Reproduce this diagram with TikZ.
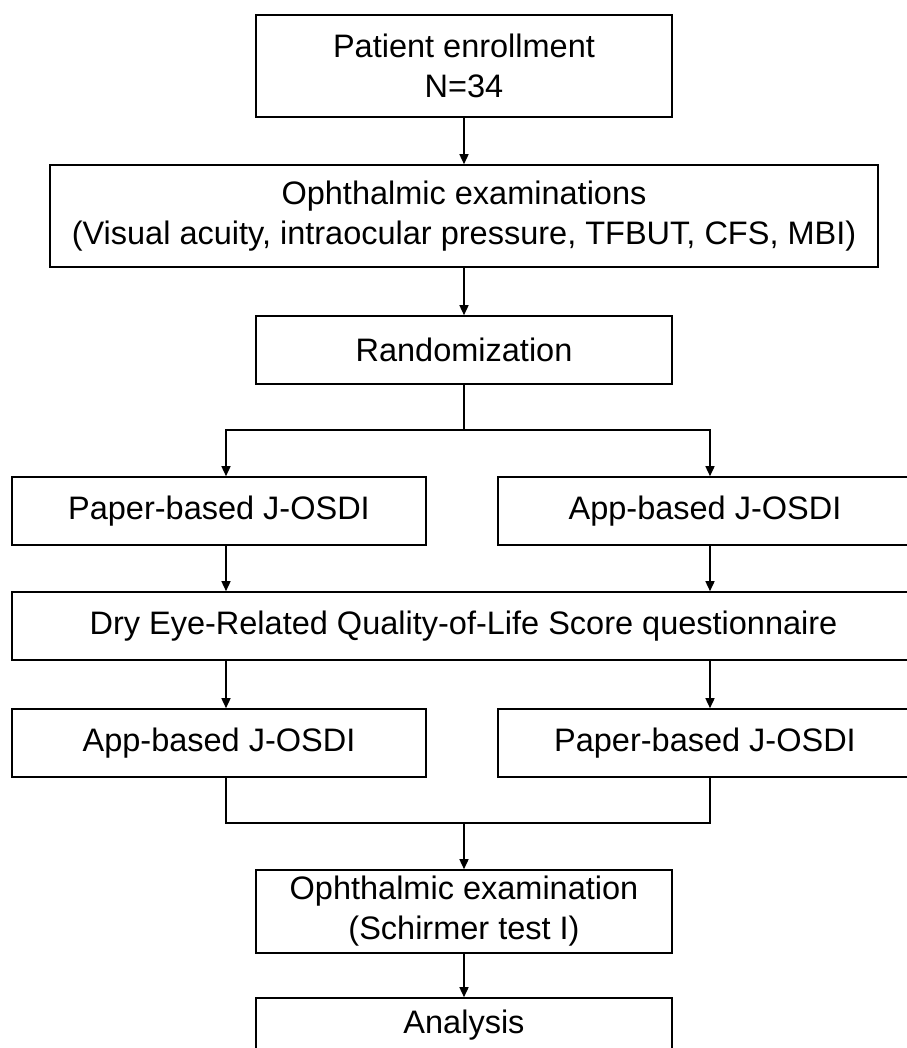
\documentclass[tikz,border=0pt]{standalone}
\usepackage{fontspec}
\setmainfont{Liberation Sans}
\usepackage{tikz}
\usetikzlibrary{positioning, calc, arrows.meta}

\begin{document}
\begin{tikzpicture}[x=1pt, y=-1pt]
    \tikzset{BoxStyle/.style = {draw, line width=1.6pt, inner sep=0pt, align=center, font=\fontsize{32.5}{40}\selectfont}}
    \tikzset{EdgeStyle/.style = {line width=1.5pt, -{Triangle[length=10pt, width=9pt]}}}
    \tikzset{EdgeStyleNoArrow/.style = {line width=1.5pt}}
    \useasboundingbox (0, 0) rectangle (906, 1048);
    \node[BoxStyle, minimum width=416pt, minimum height=102pt] (enroll) at (464, 66) {Patient enrollment\\N=34};
    \node[BoxStyle, minimum width=828pt, minimum height=102pt] (exam) at (464, 216) {Ophthalmic examinations\\(Visual acuity, intraocular pressure, TFBUT, CFS, MBI)};
    \node[BoxStyle, minimum width=416pt, minimum height=68pt] (rand) at (464, 350) {Randomization};
    \coordinate (split) at (464, 430);
    \coordinate (splitL) at (226, 430);
    \coordinate (splitR) at (710, 430);
    \node[BoxStyle, minimum width=414pt, minimum height=68pt] (paperA) at (219, 511) {Paper-based J-OSDI};
    \node[BoxStyle, minimum width=414pt, minimum height=68pt] (appA) at (705, 511) {App-based J-OSDI};
    \node[BoxStyle, minimum width=903pt, minimum height=68pt] (dequs) at (463.5, 626) {Dry Eye-Related Quality-of-Life Score questionnaire};
    \node[BoxStyle, minimum width=414pt, minimum height=68pt] (appB) at (219, 743) {App-based J-OSDI};
    \node[BoxStyle, minimum width=414pt, minimum height=68pt] (paperB) at (705, 743) {Paper-based J-OSDI};
    \coordinate (mergeL) at (226, 823);
    \coordinate (mergeR) at (710, 823);
    \coordinate (merge) at (464, 823);
    \node[BoxStyle, minimum width=416pt, minimum height=83pt] (schirmer) at (464, 911.5) {Ophthalmic examination\\(Schirmer test I)};
    \node[BoxStyle, minimum width=416pt, minimum height=54pt] (analysis) at (464, 1025) {Analysis};
    \draw[EdgeStyle] (enroll.south) -- (exam.north);
    \draw[EdgeStyle] (exam.south) -- (rand.north);
    \draw[EdgeStyleNoArrow] (rand.south) -- (split);
    \draw[EdgeStyle] (split) -- (splitL) -- (paperA.north -| splitL);
    \draw[EdgeStyle] (split) -- (splitR) -- (appA.north -| splitR);
    \draw[EdgeStyle] (paperA.south -| splitL) -- (dequs.north -| splitL);
    \draw[EdgeStyle] (appA.south -| splitR) -- (dequs.north -| splitR);
    \draw[EdgeStyle] (dequs.south -| splitL) -- (appB.north -| splitL);
    \draw[EdgeStyle] (dequs.south -| splitR) -- (paperB.north -| splitR);
    \draw[EdgeStyleNoArrow] (appB.south -| splitL) -- (mergeL) -- (mergeR) -- (paperB.south -| splitR);
    \draw[EdgeStyle] (merge) -- (schirmer.north);
    \draw[EdgeStyle] (schirmer.south) -- (analysis.north);
\end{tikzpicture}
\end{document}
